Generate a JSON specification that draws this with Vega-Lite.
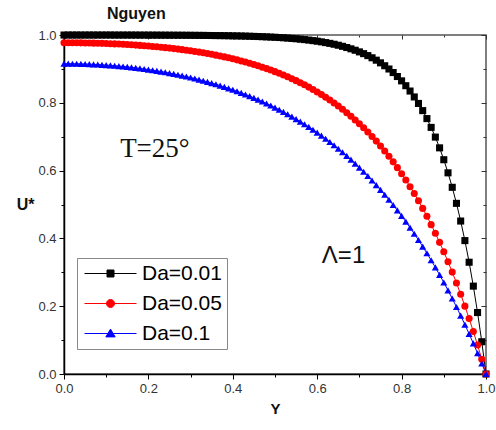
{
"$schema":"https://vega.github.io/schema/vega-lite/v6.json",
"width":422,"height":339,
"autosize":"none",
"padding":{"left":64,"top":35,"right":10,"bottom":56},
"background":"white",
"title":{"text":"Nguyen","anchor":"start","frame":"group","dx":43,"offset":-6,"baseline":"alphabetic","font":"Liberation Sans","fontSize":16,"fontWeight":"bold","color":"#111"},
"datasets":{
"curves":[
{"Y":0,"U":0.9999,"Da":"Da=0.01"},{"Y":0.01,"U":0.9999,"Da":"Da=0.01"},{"Y":0.02,"U":0.9999,"Da":"Da=0.01"},{"Y":0.03,"U":0.9999,"Da":"Da=0.01"},{"Y":0.04,"U":0.9999,"Da":"Da=0.01"},{"Y":0.05,"U":0.9999,"Da":"Da=0.01"},{"Y":0.06,"U":0.9999,"Da":"Da=0.01"},{"Y":0.07,"U":0.9999,"Da":"Da=0.01"},{"Y":0.08,"U":0.9999,"Da":"Da=0.01"},{"Y":0.09,"U":0.9999,"Da":"Da=0.01"},
{"Y":0.1,"U":0.9999,"Da":"Da=0.01"},{"Y":0.11,"U":0.9999,"Da":"Da=0.01"},{"Y":0.12,"U":0.9998,"Da":"Da=0.01"},{"Y":0.13,"U":0.9998,"Da":"Da=0.01"},{"Y":0.14,"U":0.9998,"Da":"Da=0.01"},{"Y":0.15,"U":0.9998,"Da":"Da=0.01"},{"Y":0.16,"U":0.9998,"Da":"Da=0.01"},{"Y":0.17,"U":0.9998,"Da":"Da=0.01"},{"Y":0.18,"U":0.9997,"Da":"Da=0.01"},{"Y":0.19,"U":0.9997,"Da":"Da=0.01"},
{"Y":0.2,"U":0.9997,"Da":"Da=0.01"},{"Y":0.21,"U":0.9996,"Da":"Da=0.01"},{"Y":0.22,"U":0.9996,"Da":"Da=0.01"},{"Y":0.23,"U":0.9995,"Da":"Da=0.01"},{"Y":0.24,"U":0.9995,"Da":"Da=0.01"},{"Y":0.25,"U":0.9994,"Da":"Da=0.01"},{"Y":0.26,"U":0.9994,"Da":"Da=0.01"},{"Y":0.27,"U":0.9993,"Da":"Da=0.01"},{"Y":0.28,"U":0.9993,"Da":"Da=0.01"},{"Y":0.29,"U":0.9992,"Da":"Da=0.01"},
{"Y":0.3,"U":0.9991,"Da":"Da=0.01"},{"Y":0.31,"U":0.999,"Da":"Da=0.01"},{"Y":0.32,"U":0.9989,"Da":"Da=0.01"},{"Y":0.33,"U":0.9988,"Da":"Da=0.01"},{"Y":0.34,"U":0.9986,"Da":"Da=0.01"},{"Y":0.35,"U":0.9985,"Da":"Da=0.01"},{"Y":0.36,"U":0.9983,"Da":"Da=0.01"},{"Y":0.37,"U":0.9982,"Da":"Da=0.01"},{"Y":0.38,"U":0.998,"Da":"Da=0.01"},{"Y":0.39,"U":0.9978,"Da":"Da=0.01"},
{"Y":0.4,"U":0.9975,"Da":"Da=0.01"},{"Y":0.41,"U":0.9973,"Da":"Da=0.01"},{"Y":0.42,"U":0.997,"Da":"Da=0.01"},{"Y":0.43,"U":0.9967,"Da":"Da=0.01"},{"Y":0.44,"U":0.9963,"Da":"Da=0.01"},{"Y":0.45,"U":0.9959,"Da":"Da=0.01"},{"Y":0.46,"U":0.9955,"Da":"Da=0.01"},{"Y":0.47,"U":0.995,"Da":"Da=0.01"},{"Y":0.48,"U":0.9945,"Da":"Da=0.01"},{"Y":0.49,"U":0.9939,"Da":"Da=0.01"},
{"Y":0.5,"U":0.9933,"Da":"Da=0.01"},{"Y":0.51,"U":0.9926,"Da":"Da=0.01"},{"Y":0.52,"U":0.9918,"Da":"Da=0.01"},{"Y":0.53,"U":0.9909,"Da":"Da=0.01"},{"Y":0.54,"U":0.9899,"Da":"Da=0.01"},{"Y":0.55,"U":0.9889,"Da":"Da=0.01"},{"Y":0.56,"U":0.9877,"Da":"Da=0.01"},{"Y":0.57,"U":0.9864,"Da":"Da=0.01"},{"Y":0.58,"U":0.985,"Da":"Da=0.01"},{"Y":0.59,"U":0.9834,"Da":"Da=0.01"},
{"Y":0.6,"U":0.9817,"Da":"Da=0.01"},{"Y":0.61,"U":0.9798,"Da":"Da=0.01"},{"Y":0.62,"U":0.9776,"Da":"Da=0.01"},{"Y":0.63,"U":0.9753,"Da":"Da=0.01"},{"Y":0.64,"U":0.9727,"Da":"Da=0.01"},{"Y":0.65,"U":0.9698,"Da":"Da=0.01"},{"Y":0.66,"U":0.9666,"Da":"Da=0.01"},{"Y":0.67,"U":0.9631,"Da":"Da=0.01"},{"Y":0.68,"U":0.9592,"Da":"Da=0.01"},{"Y":0.69,"U":0.955,"Da":"Da=0.01"},
{"Y":0.7,"U":0.9502,"Da":"Da=0.01"},{"Y":0.71,"U":0.945,"Da":"Da=0.01"},{"Y":0.72,"U":0.9392,"Da":"Da=0.01"},{"Y":0.73,"U":0.9328,"Da":"Da=0.01"},{"Y":0.74,"U":0.9257,"Da":"Da=0.01"},{"Y":0.75,"U":0.9179,"Da":"Da=0.01"},{"Y":0.76,"U":0.9093,"Da":"Da=0.01"},{"Y":0.77,"U":0.8997,"Da":"Da=0.01"},{"Y":0.78,"U":0.8892,"Da":"Da=0.01"},{"Y":0.79,"U":0.8775,"Da":"Da=0.01"},
{"Y":0.8,"U":0.8647,"Da":"Da=0.01"},{"Y":0.81,"U":0.8504,"Da":"Da=0.01"},{"Y":0.82,"U":0.8347,"Da":"Da=0.01"},{"Y":0.83,"U":0.8173,"Da":"Da=0.01"},{"Y":0.84,"U":0.7981,"Da":"Da=0.01"},{"Y":0.85,"U":0.7769,"Da":"Da=0.01"},{"Y":0.86,"U":0.7534,"Da":"Da=0.01"},{"Y":0.87,"U":0.7275,"Da":"Da=0.01"},{"Y":0.88,"U":0.6988,"Da":"Da=0.01"},{"Y":0.89,"U":0.6671,"Da":"Da=0.01"},
{"Y":0.9,"U":0.6321,"Da":"Da=0.01"},{"Y":0.91,"U":0.5934,"Da":"Da=0.01"},{"Y":0.92,"U":0.5507,"Da":"Da=0.01"},{"Y":0.93,"U":0.5034,"Da":"Da=0.01"},{"Y":0.94,"U":0.4512,"Da":"Da=0.01"},{"Y":0.95,"U":0.3935,"Da":"Da=0.01"},{"Y":0.96,"U":0.3297,"Da":"Da=0.01"},{"Y":0.97,"U":0.2592,"Da":"Da=0.01"},{"Y":0.98,"U":0.1813,"Da":"Da=0.01"},{"Y":0.99,"U":0.0952,"Da":"Da=0.01"},{"Y":1,"U":0,"Da":"Da=0.01"},
{"Y":0,"U":0.9772,"Da":"Da=0.05"},{"Y":0.01,"U":0.9771,"Da":"Da=0.05"},{"Y":0.02,"U":0.9771,"Da":"Da=0.05"},{"Y":0.03,"U":0.977,"Da":"Da=0.05"},{"Y":0.04,"U":0.9768,"Da":"Da=0.05"},{"Y":0.05,"U":0.9766,"Da":"Da=0.05"},{"Y":0.06,"U":0.9763,"Da":"Da=0.05"},{"Y":0.07,"U":0.976,"Da":"Da=0.05"},{"Y":0.08,"U":0.9757,"Da":"Da=0.05"},{"Y":0.09,"U":0.9753,"Da":"Da=0.05"},
{"Y":0.1,"U":0.9748,"Da":"Da=0.05"},{"Y":0.11,"U":0.9743,"Da":"Da=0.05"},{"Y":0.12,"U":0.9738,"Da":"Da=0.05"},{"Y":0.13,"U":0.9732,"Da":"Da=0.05"},{"Y":0.14,"U":0.9725,"Da":"Da=0.05"},{"Y":0.15,"U":0.9718,"Da":"Da=0.05"},{"Y":0.16,"U":0.9711,"Da":"Da=0.05"},{"Y":0.17,"U":0.9702,"Da":"Da=0.05"},{"Y":0.18,"U":0.9693,"Da":"Da=0.05"},{"Y":0.19,"U":0.9684,"Da":"Da=0.05"},
{"Y":0.2,"U":0.9674,"Da":"Da=0.05"},{"Y":0.21,"U":0.9663,"Da":"Da=0.05"},{"Y":0.22,"U":0.9652,"Da":"Da=0.05"},{"Y":0.23,"U":0.964,"Da":"Da=0.05"},{"Y":0.24,"U":0.9627,"Da":"Da=0.05"},{"Y":0.25,"U":0.9613,"Da":"Da=0.05"},{"Y":0.26,"U":0.9599,"Da":"Da=0.05"},{"Y":0.27,"U":0.9584,"Da":"Da=0.05"},{"Y":0.28,"U":0.9568,"Da":"Da=0.05"},{"Y":0.29,"U":0.9551,"Da":"Da=0.05"},
{"Y":0.3,"U":0.9533,"Da":"Da=0.05"},{"Y":0.31,"U":0.9515,"Da":"Da=0.05"},{"Y":0.32,"U":0.9495,"Da":"Da=0.05"},{"Y":0.33,"U":0.9474,"Da":"Da=0.05"},{"Y":0.34,"U":0.9453,"Da":"Da=0.05"},{"Y":0.35,"U":0.943,"Da":"Da=0.05"},{"Y":0.36,"U":0.9406,"Da":"Da=0.05"},{"Y":0.37,"U":0.9381,"Da":"Da=0.05"},{"Y":0.38,"U":0.9354,"Da":"Da=0.05"},{"Y":0.39,"U":0.9327,"Da":"Da=0.05"},
{"Y":0.4,"U":0.9298,"Da":"Da=0.05"},{"Y":0.41,"U":0.9267,"Da":"Da=0.05"},{"Y":0.42,"U":0.9235,"Da":"Da=0.05"},{"Y":0.43,"U":0.9202,"Da":"Da=0.05"},{"Y":0.44,"U":0.9167,"Da":"Da=0.05"},{"Y":0.45,"U":0.913,"Da":"Da=0.05"},{"Y":0.46,"U":0.9092,"Da":"Da=0.05"},{"Y":0.47,"U":0.9051,"Da":"Da=0.05"},{"Y":0.48,"U":0.9009,"Da":"Da=0.05"},{"Y":0.49,"U":0.8965,"Da":"Da=0.05"},
{"Y":0.5,"U":0.8919,"Da":"Da=0.05"},{"Y":0.51,"U":0.8871,"Da":"Da=0.05"},{"Y":0.52,"U":0.882,"Da":"Da=0.05"},{"Y":0.53,"U":0.8767,"Da":"Da=0.05"},{"Y":0.54,"U":0.8712,"Da":"Da=0.05"},{"Y":0.55,"U":0.8654,"Da":"Da=0.05"},{"Y":0.56,"U":0.8593,"Da":"Da=0.05"},{"Y":0.57,"U":0.853,"Da":"Da=0.05"},{"Y":0.58,"U":0.8463,"Da":"Da=0.05"},{"Y":0.59,"U":0.8393,"Da":"Da=0.05"},
{"Y":0.6,"U":0.8321,"Da":"Da=0.05"},{"Y":0.61,"U":0.8245,"Da":"Da=0.05"},{"Y":0.62,"U":0.8165,"Da":"Da=0.05"},{"Y":0.63,"U":0.8082,"Da":"Da=0.05"},{"Y":0.64,"U":0.7995,"Da":"Da=0.05"},{"Y":0.65,"U":0.7904,"Da":"Da=0.05"},{"Y":0.66,"U":0.7808,"Da":"Da=0.05"},{"Y":0.67,"U":0.7708,"Da":"Da=0.05"},{"Y":0.68,"U":0.7604,"Da":"Da=0.05"},{"Y":0.69,"U":0.7495,"Da":"Da=0.05"},
{"Y":0.7,"U":0.7381,"Da":"Da=0.05"},{"Y":0.71,"U":0.7262,"Da":"Da=0.05"},{"Y":0.72,"U":0.7137,"Da":"Da=0.05"},{"Y":0.73,"U":0.7006,"Da":"Da=0.05"},{"Y":0.74,"U":0.687,"Da":"Da=0.05"},{"Y":0.75,"U":0.6727,"Da":"Da=0.05"},{"Y":0.76,"U":0.6578,"Da":"Da=0.05"},{"Y":0.77,"U":0.6421,"Da":"Da=0.05"},{"Y":0.78,"U":0.6258,"Da":"Da=0.05"},{"Y":0.79,"U":0.6087,"Da":"Da=0.05"},
{"Y":0.8,"U":0.5908,"Da":"Da=0.05"},{"Y":0.81,"U":0.5722,"Da":"Da=0.05"},{"Y":0.82,"U":0.5526,"Da":"Da=0.05"},{"Y":0.83,"U":0.5322,"Da":"Da=0.05"},{"Y":0.84,"U":0.5108,"Da":"Da=0.05"},{"Y":0.85,"U":0.4885,"Da":"Da=0.05"},{"Y":0.86,"U":0.4651,"Da":"Da=0.05"},{"Y":0.87,"U":0.4406,"Da":"Da=0.05"},{"Y":0.88,"U":0.4151,"Da":"Da=0.05"},{"Y":0.89,"U":0.3883,"Da":"Da=0.05"},
{"Y":0.9,"U":0.3604,"Da":"Da=0.05"},{"Y":0.91,"U":0.3312,"Da":"Da=0.05"},{"Y":0.92,"U":0.3006,"Da":"Da=0.05"},{"Y":0.93,"U":0.2686,"Da":"Da=0.05"},{"Y":0.94,"U":0.2352,"Da":"Da=0.05"},{"Y":0.95,"U":0.2002,"Da":"Da=0.05"},{"Y":0.96,"U":0.1636,"Da":"Da=0.05"},{"Y":0.97,"U":0.1254,"Da":"Da=0.05"},{"Y":0.98,"U":0.0854,"Da":"Da=0.05"},{"Y":0.99,"U":0.0436,"Da":"Da=0.05"},{"Y":1,"U":0,"Da":"Da=0.05"},
{"Y":0,"U":0.9155,"Da":"Da=0.1"},{"Y":0.01,"U":0.9154,"Da":"Da=0.1"},{"Y":0.02,"U":0.9153,"Da":"Da=0.1"},{"Y":0.03,"U":0.9151,"Da":"Da=0.1"},{"Y":0.04,"U":0.9148,"Da":"Da=0.1"},{"Y":0.05,"U":0.9144,"Da":"Da=0.1"},{"Y":0.06,"U":0.914,"Da":"Da=0.1"},{"Y":0.07,"U":0.9134,"Da":"Da=0.1"},{"Y":0.08,"U":0.9128,"Da":"Da=0.1"},{"Y":0.09,"U":0.912,"Da":"Da=0.1"},
{"Y":0.1,"U":0.9112,"Da":"Da=0.1"},{"Y":0.11,"U":0.9103,"Da":"Da=0.1"},{"Y":0.12,"U":0.9093,"Da":"Da=0.1"},{"Y":0.13,"U":0.9083,"Da":"Da=0.1"},{"Y":0.14,"U":0.9071,"Da":"Da=0.1"},{"Y":0.15,"U":0.9058,"Da":"Da=0.1"},{"Y":0.16,"U":0.9044,"Da":"Da=0.1"},{"Y":0.17,"U":0.903,"Da":"Da=0.1"},{"Y":0.18,"U":0.9014,"Da":"Da=0.1"},{"Y":0.19,"U":0.8998,"Da":"Da=0.1"},
{"Y":0.2,"U":0.898,"Da":"Da=0.1"},{"Y":0.21,"U":0.8962,"Da":"Da=0.1"},{"Y":0.22,"U":0.8942,"Da":"Da=0.1"},{"Y":0.23,"U":0.8921,"Da":"Da=0.1"},{"Y":0.24,"U":0.89,"Da":"Da=0.1"},{"Y":0.25,"U":0.8877,"Da":"Da=0.1"},{"Y":0.26,"U":0.8853,"Da":"Da=0.1"},{"Y":0.27,"U":0.8828,"Da":"Da=0.1"},{"Y":0.28,"U":0.8801,"Da":"Da=0.1"},{"Y":0.29,"U":0.8774,"Da":"Da=0.1"},
{"Y":0.3,"U":0.8745,"Da":"Da=0.1"},{"Y":0.31,"U":0.8715,"Da":"Da=0.1"},{"Y":0.32,"U":0.8684,"Da":"Da=0.1"},{"Y":0.33,"U":0.8651,"Da":"Da=0.1"},{"Y":0.34,"U":0.8618,"Da":"Da=0.1"},{"Y":0.35,"U":0.8582,"Da":"Da=0.1"},{"Y":0.36,"U":0.8546,"Da":"Da=0.1"},{"Y":0.37,"U":0.8507,"Da":"Da=0.1"},{"Y":0.38,"U":0.8468,"Da":"Da=0.1"},{"Y":0.39,"U":0.8427,"Da":"Da=0.1"},
{"Y":0.4,"U":0.8384,"Da":"Da=0.1"},{"Y":0.41,"U":0.8339,"Da":"Da=0.1"},{"Y":0.42,"U":0.8293,"Da":"Da=0.1"},{"Y":0.43,"U":0.8246,"Da":"Da=0.1"},{"Y":0.44,"U":0.8196,"Da":"Da=0.1"},{"Y":0.45,"U":0.8145,"Da":"Da=0.1"},{"Y":0.46,"U":0.8092,"Da":"Da=0.1"},{"Y":0.47,"U":0.8037,"Da":"Da=0.1"},{"Y":0.48,"U":0.798,"Da":"Da=0.1"},{"Y":0.49,"U":0.792,"Da":"Da=0.1"},
{"Y":0.5,"U":0.7859,"Da":"Da=0.1"},{"Y":0.51,"U":0.7796,"Da":"Da=0.1"},{"Y":0.52,"U":0.7731,"Da":"Da=0.1"},{"Y":0.53,"U":0.7663,"Da":"Da=0.1"},{"Y":0.54,"U":0.7593,"Da":"Da=0.1"},{"Y":0.55,"U":0.752,"Da":"Da=0.1"},{"Y":0.56,"U":0.7445,"Da":"Da=0.1"},{"Y":0.57,"U":0.7368,"Da":"Da=0.1"},{"Y":0.58,"U":0.7288,"Da":"Da=0.1"},{"Y":0.59,"U":0.7205,"Da":"Da=0.1"},
{"Y":0.6,"U":0.7119,"Da":"Da=0.1"},{"Y":0.61,"U":0.703,"Da":"Da=0.1"},{"Y":0.62,"U":0.6939,"Da":"Da=0.1"},{"Y":0.63,"U":0.6844,"Da":"Da=0.1"},{"Y":0.64,"U":0.6747,"Da":"Da=0.1"},{"Y":0.65,"U":0.6646,"Da":"Da=0.1"},{"Y":0.66,"U":0.6541,"Da":"Da=0.1"},{"Y":0.67,"U":0.6433,"Da":"Da=0.1"},{"Y":0.68,"U":0.6322,"Da":"Da=0.1"},{"Y":0.69,"U":0.6207,"Da":"Da=0.1"},
{"Y":0.7,"U":0.6088,"Da":"Da=0.1"},{"Y":0.71,"U":0.5966,"Da":"Da=0.1"},{"Y":0.72,"U":0.5839,"Da":"Da=0.1"},{"Y":0.73,"U":0.5708,"Da":"Da=0.1"},{"Y":0.74,"U":0.5572,"Da":"Da=0.1"},{"Y":0.75,"U":0.5433,"Da":"Da=0.1"},{"Y":0.76,"U":0.5289,"Da":"Da=0.1"},{"Y":0.77,"U":0.514,"Da":"Da=0.1"},{"Y":0.78,"U":0.4986,"Da":"Da=0.1"},{"Y":0.79,"U":0.4827,"Da":"Da=0.1"},
{"Y":0.8,"U":0.4663,"Da":"Da=0.1"},{"Y":0.81,"U":0.4494,"Da":"Da=0.1"},{"Y":0.82,"U":0.4319,"Da":"Da=0.1"},{"Y":0.83,"U":0.4138,"Da":"Da=0.1"},{"Y":0.84,"U":0.3952,"Da":"Da=0.1"},{"Y":0.85,"U":0.3759,"Da":"Da=0.1"},{"Y":0.86,"U":0.3561,"Da":"Da=0.1"},{"Y":0.87,"U":0.3356,"Da":"Da=0.1"},{"Y":0.88,"U":0.3144,"Da":"Da=0.1"},{"Y":0.89,"U":0.2925,"Da":"Da=0.1"},
{"Y":0.9,"U":0.27,"Da":"Da=0.1"},{"Y":0.91,"U":0.2467,"Da":"Da=0.1"},{"Y":0.92,"U":0.2226,"Da":"Da=0.1"},{"Y":0.93,"U":0.1978,"Da":"Da=0.1"},{"Y":0.94,"U":0.1721,"Da":"Da=0.1"},{"Y":0.95,"U":0.1457,"Da":"Da=0.1"},{"Y":0.96,"U":0.1184,"Da":"Da=0.1"},{"Y":0.97,"U":0.0902,"Da":"Da=0.1"},{"Y":0.98,"U":0.0611,"Da":"Da=0.1"},{"Y":0.99,"U":0.031,"Da":"Da=0.1"},{"Y":1,"U":0,"Da":"Da=0.1"}
],
"notes1":[{"Y":0.133,"U":0.64,"label":"T=25°"}],
"notes2":[{"Y":0.611,"U":0.327,"label":"Λ=1"}]
},
"layer":[
{
"data":{"name":"curves"},
"mark":{"type":"line","strokeWidth":1,"clip":false},
"encoding":{
"x":{"field":"Y","type":"quantitative","scale":{"domain":[0,1],"nice":false,"zero":false,"padding":0},
 "axis":{"orient":"top","labels":false,"domain":false,"title":null,"grid":false,"minExtent":0,"maxExtent":0,"values":[0,0.1,0.2,0.3,0.4,0.5,0.6,0.7,0.8,0.9,1],"tickColor":"#333","tickWidth":1,"tickSize":{"condition":{"test":"round(datum.value*10)%2===0","value":-4},"value":-2}}},
"y":{"field":"U","type":"quantitative","scale":{"domain":[0,1],"nice":false,"zero":false,"padding":0},
 "axis":{"orient":"right","labels":false,"domain":false,"title":null,"grid":false,"minExtent":0,"maxExtent":0,"values":[0,0.1,0.2,0.3,0.4,0.5,0.6,0.7,0.8,0.9,1],"tickColor":"#333","tickWidth":1,"tickSize":{"condition":{"test":"round(datum.value*10)%2===0","value":-5},"value":-3}}},
"color":{"field":"Da","type":"nominal","scale":{"domain":["Da=0.01","Da=0.05","Da=0.1"],"range":["#000000","#ff0000","#0000ff"]},"legend":null}
}
},
{
"data":{"name":"curves"},
"mark":{"type":"point","filled":true,"opacity":1,"size":50,"clip":false},
"encoding":{
"x":{"field":"Y","type":"quantitative","scale":{"domain":[0,1],"nice":false,"zero":false,"padding":0},
 "axis":{"orient":"bottom","title":"Y","grid":false,"labelFlush":false,"values":[0,0.1,0.2,0.3,0.4,0.5,0.6,0.7,0.8,0.9,1],"format":".1f","labelExpr":"round(datum.value*10)%2===0 ? datum.label : ''","domainColor":"#000","domainWidth":1.5,"tickColor":"#000","tickWidth":1,"tickSize":{"condition":{"test":"round(datum.value*10)%2===0","value":5},"value":3},"labelPadding":3,"labelFont":"Liberation Sans","labelFontSize":13,"labelColor":"#333","titleFont":"Liberation Sans","titleFontSize":15,"titleFontWeight":"bold","titleColor":"#111","titlePadding":6}},
"y":{"field":"U","type":"quantitative","scale":{"domain":[0,1],"nice":false,"zero":false,"padding":0},
 "axis":{"orient":"left","title":"U*","titleAngle":0,"titleAlign":"right","titleBaseline":"middle","grid":false,"labelFlush":false,"values":[0,0.1,0.2,0.3,0.4,0.5,0.6,0.7,0.8,0.9,1],"format":".1f","labelExpr":"round(datum.value*10)%2===0 ? datum.label : ''","domainColor":"#000","domainWidth":1.5,"tickColor":"#000","tickWidth":1,"tickSize":{"condition":{"test":"round(datum.value*10)%2===0","value":5},"value":3},"labelPadding":3,"labelFont":"Liberation Sans","labelFontSize":13,"labelColor":"#333","titleFont":"Liberation Sans","titleFontSize":16,"titleFontWeight":"bold","titleColor":"#111","titlePadding":4}},
"color":{"field":"Da","type":"nominal","legend":null},
"shape":{"field":"Da","type":"nominal","scale":{"domain":["Da=0.01","Da=0.05","Da=0.1"],"range":["square","circle","triangle-up"]},"legend":null}
}
},
{
"data":{"name":"curves"},
"transform":[{"filter":"datum.Y < 0"}],
"mark":{"type":"point","filled":true,"opacity":1},
"encoding":{
"x":{"field":"Y","type":"quantitative","axis":null},
"y":{"field":"U","type":"quantitative","axis":null},
"color":{"field":"Da","type":"nominal",
 "legend":{"title":null,"orient":"none","legendX":13,"legendY":223,"strokeColor":"#888","fillColor":"white","padding":5,"symbolSize":100,"symbolStrokeWidth":1,"labelFontSize":21,"labelFont":"Liberation Sans","labelColor":"#000","rowPadding":8,"labelOffset":39}},
"stroke":{"field":"Da","type":"nominal","scale":{"domain":["Da=0.01","Da=0.05","Da=0.1"],"range":["#000000","#ff0000","#0000ff"]},
 "legend":{"title":null,"orient":"none","legendX":13,"legendY":223,"strokeColor":"#888","fillColor":"white","padding":5,"symbolSize":100,"symbolStrokeWidth":1,"labelFontSize":21,"labelFont":"Liberation Sans","labelColor":"#000","rowPadding":8,"labelOffset":39}},
"shape":{"field":"Da","type":"nominal","scale":{"domain":["Da=0.01","Da=0.05","Da=0.1"],"range":["M-1.6,0H8.8M2.9,-0.7H4.3V0.7H2.9Z","M-1.6,0H8.8M2.8,0A0.8,0.8,0,1,0,4.4,0A0.8,0.8,0,1,0,2.8,0Z","M-1.6,0H8.8M3.6,-0.88L4.53,0.68H2.67Z"]},
 "legend":{"title":null,"orient":"none","legendX":13,"legendY":223,"strokeColor":"#888","fillColor":"white","padding":5,"symbolSize":100,"symbolStrokeWidth":1,"labelFontSize":21,"labelFont":"Liberation Sans","labelColor":"#000","rowPadding":8,"labelOffset":39}}
}
},
{
"data":{"name":"notes1"},
"mark":{"type":"text","font":"Liberation Serif","fontSize":27,"align":"left","baseline":"alphabetic","color":"#111"},
"encoding":{"x":{"field":"Y","type":"quantitative","axis":null},"y":{"field":"U","type":"quantitative","axis":null},"text":{"field":"label"}}
},
{
"data":{"name":"notes2"},
"mark":{"type":"text","font":"Liberation Sans","fontSize":24,"align":"left","baseline":"alphabetic","color":"#111"},
"encoding":{"x":{"field":"Y","type":"quantitative","axis":null},"y":{"field":"U","type":"quantitative","axis":null},"text":{"field":"label"}}
}
],
"resolve":{"axis":{"x":"independent","y":"independent"},"scale":{"shape":"independent"},"legend":{"color":"independent","shape":"independent","stroke":"independent"}},
"config":{"view":{"stroke":"#555","strokeWidth":1.5},"axis":{"grid":false}}
}
